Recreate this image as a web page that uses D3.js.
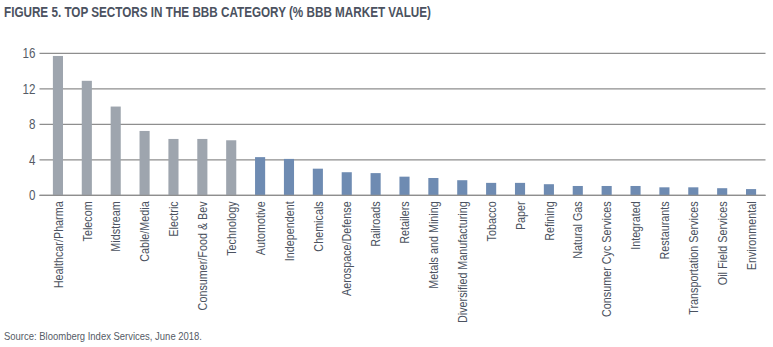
<!DOCTYPE html>
<html>
<head>
<meta charset="utf-8">
<script src="https://cdn.jsdelivr.net/npm/d3@7"></script>
<style>
  html, body { margin: 0; padding: 0; background: #fff; }
  svg { display: block; }
  .cond { font-family: "Liberation Sans", Arial, sans-serif; }
</style>
</head>
<body>
<svg id="chart" width="773" height="347"></svg>
<script>
// Sector shares of BBB market value (%)
const sectors = [
  "Healthcar/Pharma", "Telecom", "Midstream", "Cable/Media", "Electric",
  "Consumer/Food & Bev", "Technology", "Automotive", "Independent", "Chemicals",
  "Aerospace/Defense", "Railroads", "Retailers", "Metals and Mining",
  "Diversified Manufacturing", "Tobacco", "Paper", "Refining", "Natural Gas",
  "Consumer Cyc Services", "Integrated", "Restaurants", "Transportation Services",
  "Oil Field Services", "Environmental"
];
const shares = [
  15.7, 12.9, 10.0, 7.25, 6.35, 6.35, 6.2, 4.3, 4.1, 3.0,
  2.6, 2.5, 2.1, 1.95, 1.7, 1.4, 1.4, 1.25, 1.05,
  1.05, 1.05, 0.9, 0.9, 0.8, 0.7
];
// The seven largest sectors are shown in grey, the remainder in blue
const highlightCount = 7;
const yTicks = [0, 4, 8, 12, 16];

const svg = d3.select("#chart");
const plotLeft = 43.5, plotRight = 765.5, plotTop = 53.3, plotBottom = 195.3;
const narrow = 0.83; // horizontal squeeze giving a condensed face

const x = d3.scaleBand().domain(sectors).range([plotLeft, plotRight]).paddingInner(0.65).paddingOuter(0.325);
const y = d3.scaleLinear().domain([0, 16]).range([plotBottom, plotTop]);

// Title
svg.append("text")
  .attr("class", "cond")
  .attr("x", 4).attr("y", 17)
  .attr("font-size", 14).attr("font-weight", "bold")
  .attr("fill", "#4b5260")
  .attr("textLength", 427).attr("lengthAdjust", "spacingAndGlyphs")
  .text("FIGURE 5. TOP SECTORS IN THE BBB CATEGORY (% BBB MARKET VALUE)");

// Gridlines
svg.append("g")
  .selectAll("line")
  .data(yTicks)
  .join("line")
  .attr("x1", plotLeft - 4).attr("x2", plotRight)
  .attr("y1", d => y(d)).attr("y2", d => y(d))
  .attr("stroke", "#8e8e8e").attr("stroke-width", 1.3);

// Y axis labels
const yAxis = d3.axisLeft(y).tickValues(yTicks).tickSize(0).tickPadding(8);
const gy = svg.append("g").attr("transform", `translate(${plotLeft},0)`).call(yAxis);
gy.select(".domain").remove();
gy.selectAll("text")
  .attr("class", "cond")
  .attr("font-size", 14).attr("fill", "#555b66")
  .attr("transform", function () {
    // squeeze around the right edge of the label
    const xr = +d3.select(this).attr("x");
    return `translate(${xr},0) scale(${narrow},1) translate(${-xr},0)`;
  });

// Bars
svg.append("g")
  .selectAll("rect")
  .data(sectors)
  .join("rect")
  .attr("x", d => x(d))
  .attr("width", x.bandwidth())
  .attr("y", (d, i) => y(shares[i]))
  .attr("height", (d, i) => y(0) - y(shares[i]))
  .attr("fill", (d, i) => i < highlightCount ? "#9ea5ae" : "#6e8bb2");

// Redraw baseline over bars
svg.append("line")
  .attr("x1", plotLeft - 4).attr("x2", plotRight)
  .attr("y1", y(0)).attr("y2", y(0))
  .attr("stroke", "#8e8e8e").attr("stroke-width", 1.3);

// Category labels, rotated
const xAxis = d3.axisBottom(x).tickSize(0).tickPadding(0);
const gx = svg.append("g").attr("transform", `translate(0,${plotBottom})`).call(xAxis);
gx.select(".domain").remove();
gx.selectAll("text")
  .attr("class", "cond")
  .attr("font-size", 13).attr("fill", "#4b5260")
  .attr("text-anchor", "end")
  .attr("dy", null)
  .attr("y", 0)
  .attr("transform", `translate(4.7,6) rotate(-90) scale(${narrow},1)`);

// Source note
svg.append("text")
  .attr("class", "cond")
  .attr("x", 4).attr("y", 340)
  .attr("font-size", 11.5).attr("fill", "#555b66")
  .attr("textLength", 198).attr("lengthAdjust", "spacingAndGlyphs")
  .text("Source: Bloomberg Index Services, June 2018.");
</script>
</body>
</html>
